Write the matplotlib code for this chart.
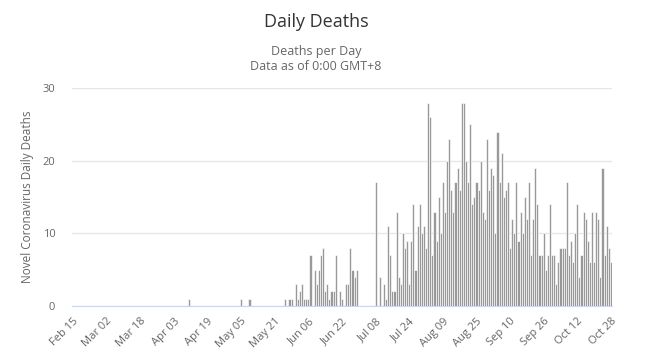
import matplotlib
matplotlib.use('Agg')
import matplotlib.pyplot as plt
import pandas as pd

# first day of the series, one bar per day
start_date = '2020-02-15'

# daily deaths, 16 days per row
deaths = [
    0, 0, 0, 0, 0, 0, 0, 0, 0, 0, 0, 0, 0, 0, 0, 0,
    0, 0, 0, 0, 0, 0, 0, 0, 0, 0, 0, 0, 0, 0, 0, 0,
    0, 0, 0, 0, 0, 0, 0, 0, 0, 0, 0, 0, 0, 0, 0, 0,
    0, 0, 0, 0, 0, 0, 0, 1, 0, 0, 0, 0, 0, 0, 0, 0,
    0, 0, 0, 0, 0, 0, 0, 0, 0, 0, 0, 0, 0, 0, 0, 0,
    1, 0, 0, 0, 1, 0, 0, 0, 0, 0, 0, 0, 0, 0, 0, 0,
    0, 0, 0, 0, 0, 1, 0, 1, 1, 0, 3, 1, 2, 3, 1, 1,
    1, 7, 0, 5, 3, 5, 7, 8, 2, 3, 1, 2, 2, 7, 0, 2,
    1, 0, 3, 3, 8, 5, 4, 5, 0, 0, 0, 0, 0, 0, 0, 0,
    17, 0, 4, 0, 3, 1, 11, 7, 2, 2, 13, 4, 3, 10, 8, 9,
    3, 9, 14, 5, 11, 14, 10, 11, 8, 28, 26, 7, 13, 9, 15, 10,
    17, 13, 20, 23, 16, 13, 17, 19, 16, 28, 28, 20, 17, 25, 14, 15,
    17, 16, 20, 13, 12, 23, 16, 19, 18, 10, 24, 17, 21, 15, 16, 17,
    8, 12, 10, 17, 9, 13, 10, 15, 12, 17, 7, 12, 19, 14, 7, 7,
    10, 5, 7, 14, 7, 7, 3, 6, 8, 8, 8, 17, 7, 9, 6, 10,
    14, 4, 7, 13, 12, 9, 6, 13, 6, 13, 12, 4, 19, 7, 11, 8,
    6,
]

y_ticks = [0, 10, 20, 30]
tick_step = 16

dates = pd.date_range(start_date, periods=len(deaths), freq='D')

plt.rcParams['font.family'] = ['Open Sans', 'DejaVu Sans']

fig = plt.figure(figsize=(6.6, 3.58), dpi=100)
ax = fig.add_axes([72 / 660, 1 - 306 / 358, 540 / 660, 218 / 358])

ax.bar(range(len(deaths)), deaths, width=1.0, color='#999999',
       edgecolor='white', linewidth=0.45)

ax.set_xlim(-0.5, len(deaths) - 0.5)
ax.set_ylim(0, 30)
ax.set_yticks(y_ticks)
ax.grid(axis='y', color='#e6e6e6', linewidth=1)
ax.set_axisbelow(True)

for side in ['top', 'right', 'left']:
    ax.spines[side].set_visible(False)
ax.spines['bottom'].set_color('#ccd6eb')
ax.spines['bottom'].set_zorder(3)

ticks = list(range(0, len(deaths), tick_step))
ax.set_xticks(ticks)
ax.set_xticklabels([dates[i].strftime('%b %d') for i in ticks],
                   rotation=45, ha='right', rotation_mode='anchor')
ax.tick_params(axis='x', length=0, pad=7, labelcolor='#666666', labelsize=8)
ax.tick_params(axis='y', length=0, pad=12, labelcolor='#666666', labelsize=8)

ax.set_ylabel('Novel Coronavirus Daily Deaths', color='#666666', fontsize=8.5)
ax.yaxis.set_label_coords(-0.07, 0.5)

cx = 316 / 660
fig.text(cx, 1 - 22 / 358, 'Daily Deaths', ha='center', va='center',
         fontsize=13, color='#333333')
fig.text(cx, 1 - 51 / 358, 'Deaths per Day', ha='center', va='center',
         fontsize=9, color='#666666')
fig.text(cx, 1 - 66 / 358, 'Data as of 0:00 GMT+8', ha='center', va='center',
         fontsize=9, color='#666666')

fig.savefig('out.png', dpi=100)
